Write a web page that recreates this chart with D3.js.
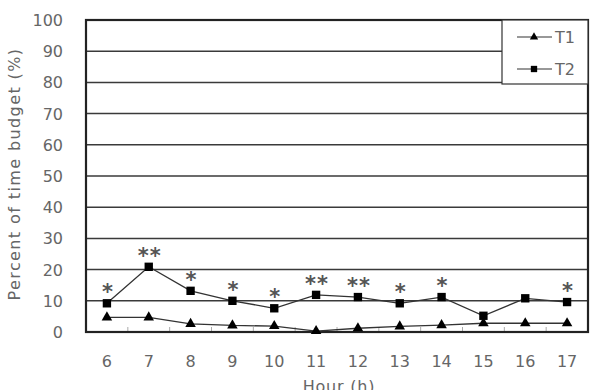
<!doctype html>
<html lang="en">
<head>
  <meta charset="utf-8">
  <title>Percent of time budget</title>
  <script src="https://cdn.jsdelivr.net/npm/d3@7"></script>
  <style>
    body { margin: 0; background: #fff; }
    text { font-family: "DejaVu Sans", "Liberation Sans", sans-serif; fill: #666; }
  </style>
</head>
<body>
  <div id="chart"></div>
  <script>
    // data
    var hours = ["6", "7", "8", "9", "10", "11", "12", "13", "14", "15", "16", "17"];
    var t1 = [4.7, 4.7, 2.6, 2.1, 1.9, 0.3, 1.2, 1.8, 2.2, 2.8, 2.8, 2.8];
    var t2 = [9.2, 20.9, 13.2, 10.0, 7.6, 11.9, 11.2, 9.2, 11.2, 5.2, 10.8, 9.6];
    var signif = ["*", "**", "*", "*", "*", "**", "**", "*", "*", "", "", "*"];
    var yTicks = [0, 10, 20, 30, 40, 50, 60, 70, 80, 90, 100];

    var W = 593, H = 390;
    var margin = { top: 20, right: 5, bottom: 58, left: 86 },
      width = W - margin.left - margin.right,
      height = H - margin.top - margin.bottom;

    var svg = d3.select("#chart").append("svg")
      .attr("width", W).attr("height", H)
      .append("g")
      .attr("transform", "translate(" + margin.left + "," + margin.top + ")");

    var x = d3.scaleBand().domain(hours).range([0, width]);
    var y = d3.scaleLinear().domain([0, 100]).range([height, 0]);

    // horizontal grid
    svg.append("g").selectAll("line")
      .data(yTicks.slice(1))
      .enter().append("line")
      .attr("x1", 0).attr("x2", width)
      .attr("y1", function (d) { return y(d); })
      .attr("y2", function (d) { return y(d); })
      .style("stroke", "#3a3a3a").style("stroke-width", 1.5);

    // y axis labels
    svg.append("g").selectAll("text")
      .data(yTicks)
      .enter().append("text")
      .attr("x", -23).attr("y", function (d) { return y(d) + 6; })
      .attr("text-anchor", "end")
      .style("font-size", "16px")
      .text(function (d) { return d; });

    // x tick labels
    svg.append("g").selectAll("text")
      .data(hours)
      .enter().append("text")
      .attr("x", function (d) { return x(d) + x.bandwidth() / 2; })
      .attr("y", height + 35)
      .attr("text-anchor", "middle")
      .style("font-size", "16px")
      .text(function (d) { return d; });

    // inward ticks between categories
    svg.append("g").selectAll("line")
      .data(hours.slice(1))
      .enter().append("line")
      .attr("x1", function (d) { return x(d); })
      .attr("x2", function (d) { return x(d); })
      .attr("y1", height).attr("y2", height - 5)
      .style("stroke", "#aaa").style("stroke-width", 1);

    // frame
    svg.append("rect")
      .attr("x", 0).attr("y", 0).attr("width", width).attr("height", height)
      .style("fill", "none").style("stroke", "#222").style("stroke-width", 2.2);

    var cx = function (d, i) { return x(hours[i]) + x.bandwidth() / 2; };
    var line = d3.line()
      .x(function (d, i) { return x(hours[i]) + x.bandwidth() / 2; })
      .y(function (d) { return y(d); });

    svg.append("path").datum(t1).attr("d", line)
      .style("fill", "none").style("stroke", "#333").style("stroke-width", 1.3);
    svg.append("path").datum(t2).attr("d", line)
      .style("fill", "none").style("stroke", "#333").style("stroke-width", 1.3);

    var tri = d3.symbol().type(d3.symbolTriangle).size(48);
    var sq = d3.symbol().type(d3.symbolSquare).size(70);

    svg.append("g").selectAll("path")
      .data(t1).enter().append("path")
      .attr("d", tri)
      .attr("transform", function (d, i) { return "translate(" + cx(d, i) + "," + y(d) + ")"; })
      .style("fill", "#000");

    svg.append("g").selectAll("path")
      .data(t2).enter().append("path")
      .attr("d", sq)
      .attr("transform", function (d, i) { return "translate(" + cx(d, i) + "," + y(d) + ")"; })
      .style("fill", "#000");

    // significance stars
    svg.append("g").selectAll("text")
      .data(t2).enter().append("text")
      .attr("x", function (d, i) { return cx(d, i) + 1; })
      .attr("y", function (d) { return y(d) - 4; })
      .attr("text-anchor", "middle")
      .style("font-size", "21px")
      .style("font-weight", "bold")
      .style("fill", "#555")
      .style("letter-spacing", "1px")
      .text(function (d, i) { return signif[i]; });

    // axis titles
    svg.append("text")
      .attr("transform", "translate(" + (-66) + "," + (height / 2 - 2) + ") rotate(-90)")
      .attr("text-anchor", "middle")
      .style("font-size", "16px")
      .style("letter-spacing", "1.4px")
      .text("Percent of time budget (%)");

    svg.append("text")
      .attr("x", width / 2 + 2).attr("y", height + 60)
      .attr("text-anchor", "middle")
      .style("font-size", "16px")
      .style("letter-spacing", "0.8px")
      .text("Hour (h)");

    // legend
    var lg = svg.append("g").attr("transform", "translate(" + (width - 86) + ",0)");
    lg.append("rect").attr("width", 86).attr("height", 64)
      .style("fill", "#fff").style("stroke", "#333").style("stroke-width", 1.2);
    var items = [{ name: "T1", sym: d3.symbol().type(d3.symbolTriangle).size(30), yy: 17 },
                 { name: "T2", sym: d3.symbol().type(d3.symbolSquare).size(40), yy: 49 }];
    items.forEach(function (it) {
      lg.append("line").attr("x1", 15).attr("x2", 50).attr("y1", it.yy).attr("y2", it.yy)
        .style("stroke", "#333").style("stroke-width", 1.2);
      lg.append("path").attr("d", it.sym).attr("transform", "translate(32," + it.yy + ")")
        .style("fill", "#000");
      lg.append("text").attr("x", 53).attr("y", it.yy + 6)
        .style("font-size", "16px").text(it.name);
    });
  </script>
</body>
</html>
